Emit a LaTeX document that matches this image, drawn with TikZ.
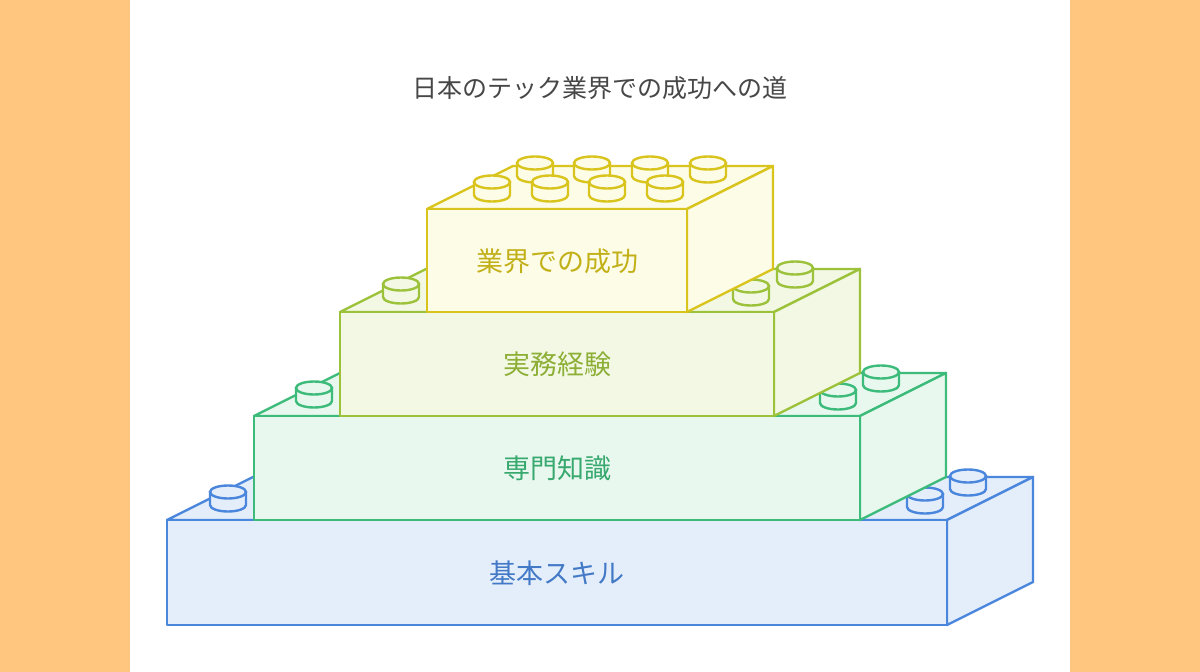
\documentclass[tikz,border=0pt]{standalone}
\usepackage{fontspec}
\newfontfamily\cjk{Noto Sans CJK JP}
\definecolor{bS}{HTML}{4A86DC}\definecolor{bF}{HTML}{E4EEFB}
\definecolor{gS}{HTML}{3DBB7A}\definecolor{gF}{HTML}{E8F8EF}
\definecolor{lS}{HTML}{9CC23C}\definecolor{lF}{HTML}{F2F8E4}
\definecolor{yS}{HTML}{D8C41C}\definecolor{yF}{HTML}{FDFCE6}
\definecolor{orbg}{HTML}{FFC680}
\newcommand{\legoblock}[6]{%
 \filldraw[fill=#6,draw=#5,line width=2.4pt,line join=round] (#1,#2) -- (#1+86,#2-43) -- (#3+86,#2-43) -- (#3,#2) -- cycle;
 \filldraw[fill=#6,draw=#5,line width=2.4pt,line join=round] (#3,#2) -- (#3+86,#2-43) -- (#3+86,#4-43) -- (#3,#4) -- cycle;
 \filldraw[fill=#6,draw=#5,line width=2.4pt,line join=round] (#1,#2) rectangle (#3,#4);}
\newcommand{\legostud}[4]{%
 \filldraw[fill=#4,draw=#3,line width=2.4pt] (#1-18,#2) -- (#1-18,#2+13) arc[start angle=180,end angle=0,x radius=18,y radius=6.5] -- (#1+18,#2) -- cycle;
 \filldraw[fill=#4,draw=#3,line width=2.4pt] (#1,#2) ellipse[x radius=18,y radius=6.5];}
\begin{document}
\begin{tikzpicture}[x=1pt,y=-1pt,lbl/.style={font=\cjk\fontsize{27}{30}\selectfont}]
\useasboundingbox (0,0) rectangle (1200,672);
\fill[orbg] (0,0) rectangle (1200,672);
\fill[white] (130,0) rectangle (1070,672);
\node[font=\cjk\fontsize{25}{28}\selectfont,text=black!72] (title) at (600,88) {日本のテック業界での成功への道};
% blue
\legoblock{167}{520}{947}{625}{bS}{bF}
\legostud{228}{492}{bS}{bF}\legostud{925}{494}{bS}{bF}\legostud{968}{476}{bS}{bF}
\node[lbl,text=bS!90!black] (t1) at (557,573) {基本スキル};
% green
\legoblock{254}{416}{860}{520}{gS}{gF}
\legostud{314}{388}{gS}{gF}\legostud{838}{390}{gS}{gF}\legostud{881}{372}{gS}{gF}
\node[lbl,text=gS!90!black] (t2) at (557,468) {専門知識};
% lime
\legoblock{340}{312}{774}{416}{lS}{lF}
\legostud{401}{284}{lS}{lF}\legostud{751}{286}{lS}{lF}\legostud{795}{268}{lS}{lF}
\node[lbl,text=lS!90!black] (t3) at (557,364) {実務経験};
% yellow
\legoblock{427}{209}{687}{312}{yS}{yF}
\foreach \sx in {535,592,650,708}{\legostud{\sx}{163}{yS}{yF}}
\foreach \sx in {492,550,607,665}{\legostud{\sx}{182}{yS}{yF}}
\node[lbl,text=yS!90!black] (t4) at (557,261) {業界での成功};
\end{tikzpicture}
\end{document}
